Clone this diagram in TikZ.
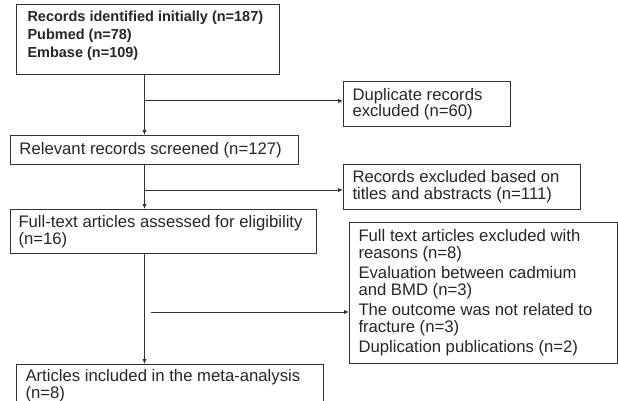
\documentclass[tikz,border=0pt]{standalone}
\usepackage{fontspec}
\setmainfont{Liberation Sans}
\usetikzlibrary{arrows.meta}

\tikzset{
	flowbox/.style={draw=black!80, line width=1pt, anchor=north west, align=left, text=black!85,
		inner xsep=9pt, inner ysep=0pt, font=\fontsize{16.7pt}{16.7pt}\selectfont,
		execute at begin node={\spaceskip=0pt\xspaceskip=0pt}},
	flowline/.style={draw=black!80, line width=1pt},
	flowarrow/.style={flowline, -{Latex[length=5pt,width=4.5pt]}}
}

\begin{document}
\begin{tikzpicture}[x=1pt,y=-1pt]
						\useasboundingbox (0,0) rectangle (618,401);
						\node[flowbox, font=\bfseries\fontsize{14.5pt}{18pt}\selectfont, inner xsep=11pt, inner ysep=6pt,
							text width=241pt, text height=11pt, text depth=47pt] (init) at (16,4)
							{Records identified initially (n=187)\\Pubmed (n=78)\\Embase (n=109)};
						\node[flowbox, font=\fontsize{16.7pt}{16pt}\selectfont, text width=149pt, minimum height=45pt] (dup) at (343,81)
							{Duplicate records\\excluded (n=60)};
						\node[flowbox, text width=270pt, minimum height=29pt] (screen) at (10,135)
							{Relevant records screened (n=127)};
						\node[flowbox, text width=219pt, minimum height=45pt] (recex) at (343,164)
							{Records excluded based on\\titles and abstracts (n=111)};
						\node[flowbox, font=\fontsize{16.7pt}{13pt}\selectfont, inner xsep=8pt, text width=290pt,
							minimum height=44pt] (full) at (10,209)
							{Full-text articles assessed for eligibility\\(n=16)};
						\node[flowbox, text width=250pt, minimum height=141pt] (ftex) at (349,222)
							{Full text articles excluded with\\reasons (n=8)\\[3.7pt]
							Evaluation between cadmium\\and BMD (n=3)\\[3.7pt]
							The outcome was not related to\\fracture (n=3)\\[3.7pt]
							Duplication publications (n=2)};
						\node[flowbox, font=\fontsize{16.7pt}{11.5pt}\selectfont, inner ysep=5pt, text width=289pt] (incl) at (16,364)
							{Articles included in the meta-analysis\\(n=8)};

						\coordinate (spine) at (144.5,0);
						\coordinate (j1) at (144.5,101);
						\coordinate (j2) at (144.5,190);
						\coordinate (j3) at (151,312);

						\draw[flowarrow] (init.south -| spine) -- (screen.north -| spine);
						\draw[flowarrow] (screen.south -| spine) -- (full.north -| spine);
						\draw[flowarrow] (full.south -| spine) -- (incl.north -| spine);
						\draw[flowarrow] (j1) -- (j1 -| dup.west);
						\draw[flowarrow] (j2) -- (j2 -| recex.west);
						\draw[flowarrow] (j3) -- (j3 -| ftex.west);
					\end{tikzpicture}
\end{document}
